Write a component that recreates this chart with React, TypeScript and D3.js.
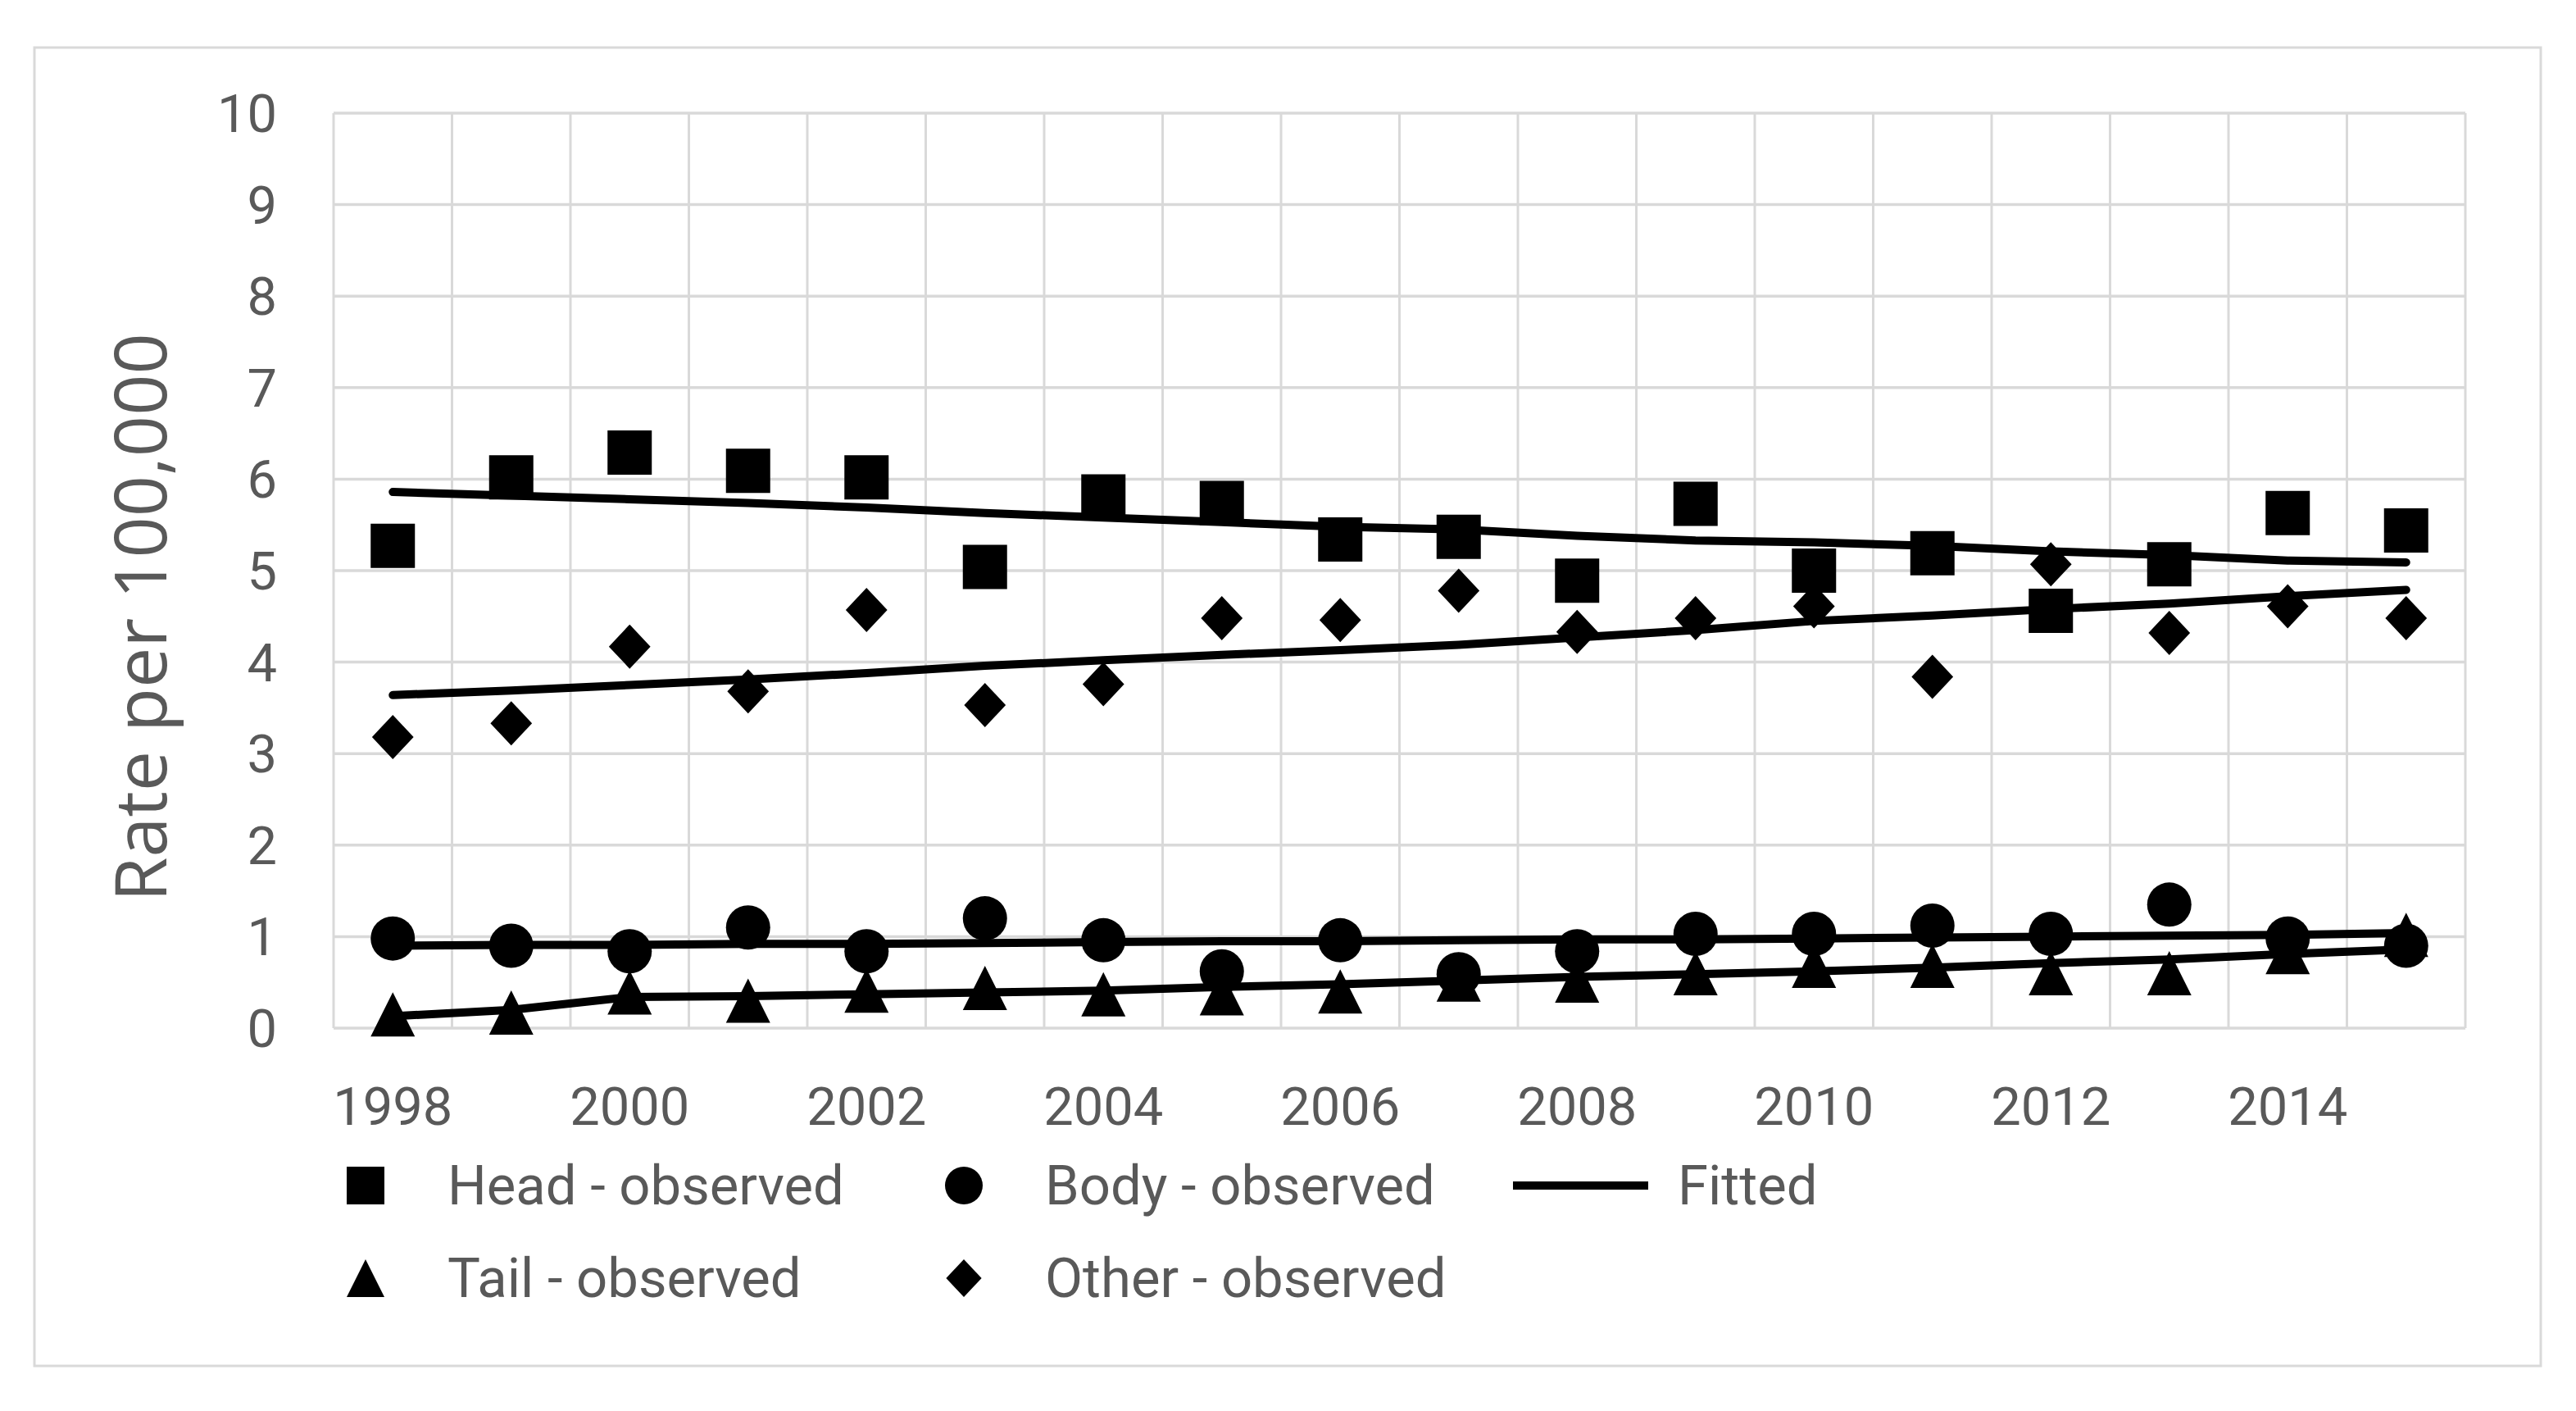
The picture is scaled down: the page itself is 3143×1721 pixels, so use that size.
import React from 'react';
import * as d3 from 'd3';

// Observed and fitted rates per 100,000
const years = ['1998', '1999', '2000', '2001', '2002', '2003', '2004', '2005', '2006',
  '2007', '2008', '2009', '2010', '2011', '2012', '2013', '2014', '2015'];

const headObserved = [5.27, 6.02, 6.29, 6.09, 6.02, 5.04, 5.81, 5.74, 5.34, 5.37, 4.89, 5.73, 5.00, 5.19, 4.56, 5.07, 5.63, 5.44];
const bodyObserved = [0.98, 0.90, 0.84, 1.10, 0.84, 1.20, 0.96, 0.62, 0.96, 0.59, 0.84, 1.03, 1.03, 1.12, 1.03, 1.35, 0.98, 0.90];
const tailObserved = [0.15, 0.17, 0.39, 0.30, 0.41, 0.44, 0.37, 0.38, 0.40, 0.53, 0.52, 0.60, 0.68, 0.68, 0.60, 0.60, 0.83, 1.02];
const otherObserved = [3.18, 3.33, 4.17, 3.68, 4.57, 3.53, 3.76, 4.48, 4.46, 4.78, 4.33, 4.48, 4.61, 3.84, 5.07, 4.32, 4.61, 4.48];

const headFitted = [5.86, 5.82, 5.78, 5.74, 5.69, 5.63, 5.58, 5.53, 5.48, 5.45, 5.38, 5.33, 5.31, 5.27, 5.21, 5.17, 5.11, 5.09];
const bodyFitted = [0.90, 0.91, 0.91, 0.92, 0.92, 0.93, 0.94, 0.95, 0.95, 0.96, 0.97, 0.97, 0.98, 0.99, 1.00, 1.01, 1.02, 1.04];
const tailFitted = [0.13, 0.20, 0.34, 0.35, 0.37, 0.39, 0.41, 0.45, 0.48, 0.52, 0.56, 0.59, 0.62, 0.66, 0.71, 0.75, 0.81, 0.86];
const otherFitted = [3.64, 3.69, 3.75, 3.81, 3.88, 3.96, 4.02, 4.08, 4.13, 4.19, 4.27, 4.35, 4.45, 4.51, 4.58, 4.64, 4.72, 4.79];

const yTicks = [0, 1, 2, 3, 4, 5, 6, 7, 8, 9, 10];
const xTickLabels = ['1998', '2000', '2002', '2004', '2006', '2008', '2010', '2012', '2014'];

const W = 3143;
const H = 1721;
const TEXT = '#595959';
const GRID = '#d9d9d9';
const FONT = 'Roboto, sans-serif';

// custom symbol types sized by their width (size = side length)
const squareType = {
  draw(ctx: any, s: number) {
    const h = s / 2;
    ctx.rect(-h, -h, s, s);
  },
};
const circleType = {
  draw(ctx: any, s: number) {
    const r = s / 2;
    ctx.moveTo(r, 0);
    ctx.arc(0, 0, r, 0, Math.PI * 2);
  },
};
const triangleType = {
  draw(ctx: any, s: number) {
    const h = s / 2;
    ctx.moveTo(0, -h);
    ctx.lineTo(h, h);
    ctx.lineTo(-h, h);
    ctx.closePath();
  },
};
const diamondType = {
  draw(ctx: any, s: number) {
    const h = s / 2;
    const w = s * 0.47;
    ctx.moveTo(0, -h);
    ctx.lineTo(w, 0);
    ctx.lineTo(0, h);
    ctx.lineTo(-w, 0);
    ctx.closePath();
  },
};

const marker = (type: any, size: number) => d3.symbol(type, size)() || '';

const App: React.FC = () => {
  const x = d3.scaleBand<string>().domain(years).range([407, 3008]);
  const y = d3.scaleLinear().domain([0, 10]).range([1254, 138]);
  const cx = (yr: string) => (x(yr) || 0) + x.bandwidth() / 2;

  const line = d3.line<number>()
    .x((_, i) => cx(years[i]))
    .y((d) => y(d));

  const observed = [
    { values: headObserved, type: squareType },
    { values: tailObserved, type: triangleType },
    { values: bodyObserved, type: circleType },
    { values: otherObserved, type: diamondType },
  ];
  const fitted = [headFitted, bodyFitted, tailFitted, otherFitted];

  const MS = 54;
  const LS = 46;

  const legendRows = [1446, 1559];
  const legendItems = [
    { label: 'Head - observed', type: squareType, mx: 446, tx: 546, row: 0 },
    { label: 'Body - observed', type: circleType, mx: 1176, tx: 1275, row: 0 },
    { label: 'Tail - observed', type: triangleType, mx: 446, tx: 546, row: 1 },
    { label: 'Other - observed', type: diamondType, mx: 1176, tx: 1275, row: 1 },
  ];

  const boundaries = years.map((yr) => x(yr) || 0).concat([x.range()[1]]);

  return (
    <div style={{ position: 'fixed', left: 0, top: 0 }}>
      <svg width={W} height={H} style={{ display: 'block', background: '#fff' }}>
        <rect x={0} y={0} width={W} height={H} fill="#fff" />
        <rect x={42} y={58} width={3058} height={1608} fill="#fff" stroke={GRID} strokeWidth={3} />

        {/* gridlines */}
        {yTicks.map((t) => (
          <line key={'h' + t} x1={407} x2={3008} y1={y(t)} y2={y(t)} stroke={GRID} strokeWidth={3.5} />
        ))}
        {boundaries.map((bx, i) => (
          <line key={'v' + i} x1={bx} x2={bx} y1={138} y2={1254} stroke={GRID} strokeWidth={3} />
        ))}

        {/* y tick labels */}
        {yTicks.map((t) => (
          <text key={'yt' + t} x={338} y={y(t) + 23} textAnchor="end" fontFamily={FONT} fontSize={65} fill={TEXT}>
            {t}
          </text>
        ))}

        {/* x tick labels */}
        {xTickLabels.map((lab) => (
          <text key={'xt' + lab} x={cx(lab)} y={1372} textAnchor="middle" fontFamily={FONT} fontSize={65} fill={TEXT}>
            {lab}
          </text>
        ))}

        {/* y axis title */}
        <text
          transform="translate(203,753) rotate(-90)"
          textAnchor="middle"
          fontFamily="'Open Sans', sans-serif"
          fontSize={88}
          fill={TEXT}
        >
          Rate per 100,000
        </text>

        {/* observed markers */}
        {observed.map((s, si) => (
          <g key={'s' + si}>
            {s.values.map((v, i) => (
              <path
                key={i}
                d={marker(s.type, MS)}
                transform={`translate(${cx(years[i])},${y(v)})`}
                fill="#000"
              />
            ))}
          </g>
        ))}

        {/* fitted lines */}
        {fitted.map((f, i) => (
          <path key={'f' + i} d={line(f) || ''} fill="none" stroke="#000" strokeWidth={10} strokeLinecap="round" strokeLinejoin="round" />
        ))}

        {/* legend */}
        {legendItems.map((it) => (
          <g key={it.label}>
            <path d={marker(it.type, LS)} transform={`translate(${it.mx},${legendRows[it.row]})`} fill="#000" />
            <text x={it.tx} y={legendRows[it.row] + 23} fontFamily={FONT} fontSize={67} fill={TEXT}>
              {it.label}
            </text>
          </g>
        ))}
        <line x1={1846} x2={2011} y1={legendRows[0]} y2={legendRows[0]} stroke="#000" strokeWidth={10} />
        <text x={2047} y={legendRows[0] + 23} fontFamily={FONT} fontSize={67} fill={TEXT}>
          Fitted
        </text>
      </svg>
    </div>
  );
};

export default App;
